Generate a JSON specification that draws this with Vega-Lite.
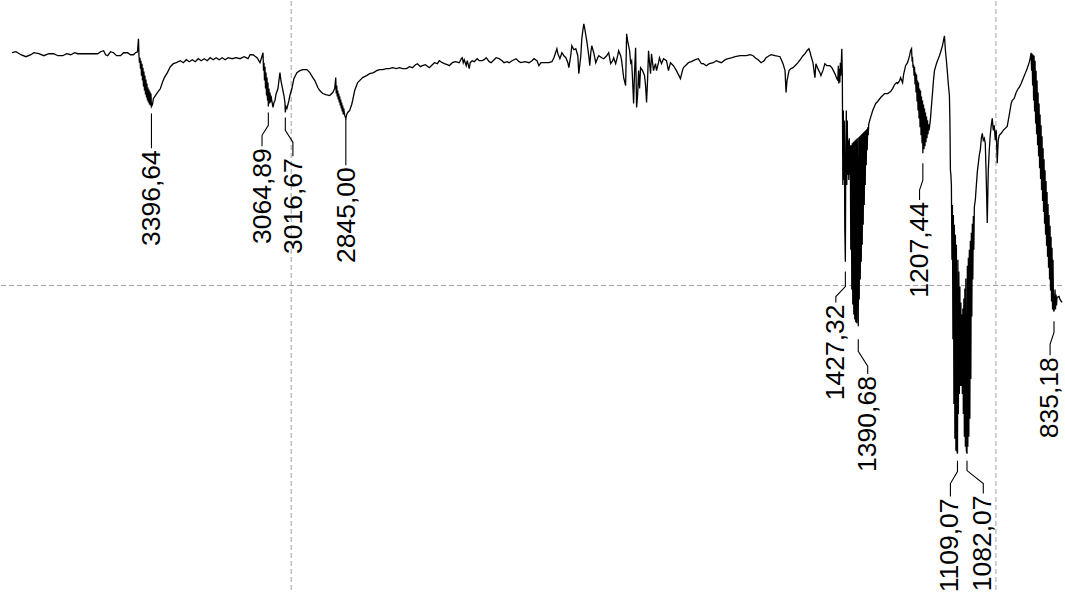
{
  "$schema": "https://vega.github.io/schema/vega-lite/v6.json",
  "width": 1065,
  "height": 592,
  "padding": 0,
  "autosize": {"type": "fit", "contains": "padding"},
  "background": "white",
  "config": {"view": {"stroke": null}},
  "datasets": {
    "spectrum": [
      {"w":3792.5,"t":89.6},{"w":3781.2,"t":89.8},{"w":3767.1,"t":89.2},{"w":3752.9,"t":88.8},{"w":3738.8,"t":89.2},{"w":3730.3,"t":89.6},{"w":3716.2,"t":89.4},{"w":3702.0,"t":89.0},{"w":3687.9,"t":89.4},{"w":3673.8,"t":89.4},{"w":3662.5,"t":89.0},{"w":3648.3,"t":89.0},{"w":3637.0,"t":89.4},{"w":3625.7,"t":89.2},{"w":3614.4,"t":89.6},{"w":3605.9,"t":89.4},{"w":3549.4,"t":89.4},{"w":3540.9,"t":89.8},{"w":3532.4,"t":90.0},{"w":3526.7,"t":89.2},{"w":3521.1,"t":89.0},{"w":3512.6,"t":89.8},{"w":3504.1,"t":89.6},{"w":3495.6,"t":89.0},{"w":3484.3,"t":89.0},{"w":3475.8,"t":89.6},{"w":3464.5,"t":89.6},{"w":3456.1,"t":89.2},{"w":3447.6,"t":89.2},{"w":3441.9,"t":89.6},{"w":3436.3,"t":89.8},{"w":3433.4,"t":92.4},
      {"w":3432.0,"t":89.0},{"w":3430.6,"t":87.6},{"w":3429.2,"t":88.6},{"w":3427.8,"t":86.4},{"w":3426.4,"t":88.0},{"w":3424.95,"t":85.0},{"w":3423.5,"t":87.4},{"w":3422.1,"t":84.0},{"w":3420.7,"t":86.6},{"w":3419.3,"t":82.8},{"w":3417.9,"t":85.8},{"w":3416.5,"t":82.0},{"w":3415.1,"t":85.0},{"w":3413.6,"t":81.2},{"w":3412.2,"t":84.2},{"w":3410.8,"t":80.6},{"w":3409.4,"t":83.4},{"w":3408.0,"t":80.0},{"w":3406.6,"t":82.6},{"w":3405.2,"t":79.6},{"w":3403.8,"t":82.2},{"w":3402.3,"t":79.2},{"w":3400.9,"t":81.8},{"w":3399.5,"t":79.0},{"w":3398.1,"t":81.4},{"w":3396.64,"t":78.8},{"w":3393.8,"t":79.2},{"w":3391.0,"t":80.4},{"w":3385.4,"t":81.0},{"w":3379.7,"t":81.6},{"w":3371.2,"t":82.4},{"w":3365.6,"t":83.6},{"w":3359.9,"t":84.6},{"w":3351.4,"t":85.6},{"w":3343.0,"t":86.8},{"w":3334.5,"t":87.4},{"w":3326.0,"t":87.6},{"w":3314.7,"t":88.0},{"w":3306.2,"t":87.6},{"w":3297.7,"t":88.2},{"w":3289.2,"t":87.8},{"w":3280.8,"t":88.2},{"w":3272.3,"t":87.8},{"w":3263.8,"t":88.4},{"w":3255.3,"t":88.0},{"w":3246.8,"t":88.4},{"w":3238.3,"t":88.0},{"w":3229.9,"t":88.6},{"w":3221.4,"t":88.2},{"w":3212.9,"t":88.6},{"w":3204.4,"t":88.2},{"w":3195.9,"t":88.6},{"w":3187.5,"t":88.2},{"w":3179.0,"t":88.6},{"w":3167.7,"t":88.4},{"w":3156.4,"t":88.6},{"w":3145.0,"t":88.4},{"w":3133.7,"t":88.8},{"w":3122.4,"t":88.4},{"w":3116.8,"t":89.2},{"w":3108.3,"t":89.2},{"w":3097.0,"t":88.6},{"w":3088.5,"t":87.6},
      {"w":3080.0,"t":89.6},{"w":3078.6,"t":86.0},{"w":3077.2,"t":87.6},{"w":3075.8,"t":84.0},{"w":3074.4,"t":86.8},{"w":3072.9,"t":82.4},{"w":3071.5,"t":85.6},{"w":3070.1,"t":81.0},{"w":3068.7,"t":84.6},{"w":3067.3,"t":80.0},{"w":3065.9,"t":83.6},{"w":3064.89,"t":78.8},{"w":3063.1,"t":82.4},{"w":3061.6,"t":79.4},{"w":3060.2,"t":81.6},{"w":3058.8,"t":79.6},{"w":3057.4,"t":81.0},{"w":3054.6,"t":79.8},{"w":3051.7,"t":78.6},{"w":3048.9,"t":79.6},{"w":3046.1,"t":80.0},{"w":3043.3,"t":81.2},{"w":3037.6,"t":82.4},{"w":3032.0,"t":85.6},{"w":3029.1,"t":84.0},{"w":3026.3,"t":83.0},{"w":3023.5,"t":82.0},{"w":3020.6,"t":81.0},{"w":3017.8,"t":79.6},{"w":3016.67,"t":77.6},{"w":3015.0,"t":78.8},{"w":3012.2,"t":78.4},{"w":3009.3,"t":79.2},{"w":3006.5,"t":80.0},{"w":3003.7,"t":81.0},{"w":2998.0,"t":82.4},{"w":2992.4,"t":84.4},{"w":2983.9,"t":85.6},{"w":2975.4,"t":86.0},{"w":2966.9,"t":86.2},{"w":2955.6,"t":86.2},{"w":2947.1,"t":85.6},{"w":2938.7,"t":84.6},{"w":2933.0,"t":84.0},{"w":2924.5,"t":82.6},{"w":2918.9,"t":82.0},{"w":2910.4,"t":81.4},{"w":2901.9,"t":81.2},{"w":2890.6,"t":81.0},{"w":2882.1,"t":81.6},{"w":2876.5,"t":82.4},{"w":2873.6,"t":84.6},{"w":2872.2,"t":81.4},{"w":2870.8,"t":83.0},{"w":2869.4,"t":80.8},{"w":2868.0,"t":82.0},{"w":2866.6,"t":80.2},{"w":2865.1,"t":81.4},{"w":2863.7,"t":79.6},{"w":2862.3,"t":80.8},{"w":2860.9,"t":79.0},{"w":2859.5,"t":80.2},{"w":2858.1,"t":78.4},{"w":2856.7,"t":79.6},{"w":2855.2,"t":77.8},{"w":2853.8,"t":79.0},{"w":2852.4,"t":77.2},{"w":2851.0,"t":78.4},{"w":2848.2,"t":77.0},{"w":2845.0,"t":76.4},{"w":2842.5,"t":77.2},{"w":2839.7,"t":77.6},{"w":2834.0,"t":78.0},{"w":2828.4,"t":79.2},{"w":2825.6,"t":80.0},{"w":2819.9,"t":82.0},{"w":2811.4,"t":83.6},{"w":2805.8,"t":84.0},{"w":2797.3,"t":84.6},{"w":2786.0,"t":85.0},{"w":2777.5,"t":85.4},{"w":2766.2,"t":85.6},{"w":2757.7,"t":86.0},{"w":2749.2,"t":86.2},{"w":2740.7,"t":86.2},{"w":2729.4,"t":86.4},{"w":2721.0,"t":86.4},{"w":2712.5,"t":86.6},{"w":2701.2,"t":86.4},
      {"w":2692.7,"t":86.6},{"w":2684.2,"t":86.4},{"w":2672.9,"t":86.4},{"w":2664.4,"t":86.8},{"w":2655.9,"t":86.6},{"w":2647.4,"t":87.2},{"w":2641.8,"t":87.4},{"w":2633.3,"t":86.8},{"w":2627.7,"t":87.0},{"w":2619.2,"t":87.2},{"w":2607.9,"t":86.6},{"w":2599.4,"t":87.2},{"w":2593.7,"t":87.6},{"w":2585.2,"t":87.4},{"w":2579.6,"t":88.0},{"w":2571.1,"t":87.6},{"w":2565.5,"t":87.4},{"w":2557.0,"t":87.2},{"w":2551.3,"t":87.0},{"w":2542.8,"t":87.6},{"w":2534.4,"t":87.8},{"w":2523.0,"t":87.6},{"w":2517.4,"t":88.4},{"w":2514.6,"t":88.6},{"w":2511.7,"t":87.6},{"w":2508.9,"t":88.2},{"w":2503.3,"t":87.0},{"w":2500.4,"t":88.0},{"w":2494.8,"t":86.4},{"w":2491.9,"t":87.6},{"w":2486.3,"t":88.0},{"w":2480.6,"t":87.8},{"w":2472.2,"t":88.4},{"w":2466.5,"t":88.0},{"w":2458.0,"t":88.0},{"w":2452.4,"t":88.2},{"w":2446.7,"t":88.6},{"w":2438.2,"t":87.8},{"w":2432.6,"t":87.6},{"w":2424.1,"t":88.2},{"w":2418.4,"t":88.6},{"w":2410.0,"t":88.4},{"w":2401.5,"t":88.0},{"w":2395.8,"t":87.6},{"w":2387.3,"t":87.8},{"w":2381.7,"t":87.6},{"w":2373.2,"t":88.0},{"w":2361.9,"t":88.4},{"w":2353.4,"t":87.8},{"w":2347.8,"t":87.6},{"w":2336.4,"t":87.8},{"w":2325.1,"t":87.6},{"w":2316.7,"t":88.0},{"w":2311.0,"t":88.4},{"w":2302.5,"t":88.0},{"w":2296.9,"t":87.0},{"w":2291.2,"t":87.6},{"w":2279.9,"t":87.6},{"w":2268.6,"t":87.6},{"w":2260.1,"t":87.8},{"w":2254.4,"t":88.6},{"w":2251.6,"t":89.2},{"w":2246.0,"t":90.4},{"w":2243.1,"t":89.4},{"w":2237.5,"t":88.4},{"w":2231.8,"t":89.6},{"w":2226.2,"t":89.0},{"w":2220.5,"t":88.6},{"w":2214.9,"t":87.6},{"w":2212.0,"t":86.6},{"w":2206.4,"t":89.2},{"w":2203.6,"t":91.0},{"w":2197.9,"t":90.2},{"w":2192.3,"t":90.4},{"w":2186.6,"t":89.0},{"w":2183.8,"t":85.4},{"w":2178.1,"t":89.0},{"w":2175.3,"t":92.4},{"w":2172.5,"t":94.0},{"w":2169.6,"t":95.4},{"w":2166.8,"t":94.4},{"w":2161.2,"t":92.0},{"w":2155.5,"t":89.0},{"w":2152.7,"t":87.0},{"w":2149.8,"t":89.6},{"w":2147.0,"t":91.0},{"w":2141.4,"t":89.6},{"w":2135.7,"t":87.6},{"w":2130.1,"t":88.6},
      {"w":2127.2,"t":89.0},{"w":2118.7,"t":88.6},{"w":2113.1,"t":88.4},{"w":2104.6,"t":89.0},{"w":2099.0,"t":89.6},{"w":2093.3,"t":87.4},{"w":2087.6,"t":88.0},{"w":2084.8,"t":88.6},{"w":2079.2,"t":87.4},{"w":2073.5,"t":89.0},{"w":2070.7,"t":90.0},{"w":2065.0,"t":89.0},{"w":2062.2,"t":88.0},{"w":2056.5,"t":84.6},{"w":2050.9,"t":83.0},{"w":2048.1,"t":93.4},{"w":2045.2,"t":92.0},{"w":2039.6,"t":90.0},{"w":2036.7,"t":87.6},{"w":2033.9,"t":88.0},{"w":2031.1,"t":84.0},{"w":2028.3,"t":79.4},{"w":2025.4,"t":86.0},{"w":2022.6,"t":90.6},{"w":2019.8,"t":78.6},{"w":2017.0,"t":81.0},{"w":2014.1,"t":86.0},{"w":2011.3,"t":82.4},{"w":2008.5,"t":86.6},{"w":2002.8,"t":86.0},{"w":1997.2,"t":85.0},{"w":1994.3,"t":83.0},{"w":1991.5,"t":79.6},{"w":1988.7,"t":84.0},{"w":1985.9,"t":90.0},{"w":1983.0,"t":87.6},{"w":1980.2,"t":85.4},{"w":1977.4,"t":89.4},{"w":1974.5,"t":87.6},{"w":1971.7,"t":86.0},{"w":1968.9,"t":86.8},{"w":1966.1,"t":87.4},{"w":1963.2,"t":86.0},{"w":1957.6,"t":87.6},{"w":1954.8,"t":88.6},{"w":1951.9,"t":88.0},{"w":1949.1,"t":87.4},{"w":1943.4,"t":88.4},{"w":1935.0,"t":88.0},{"w":1929.3,"t":86.0},{"w":1923.7,"t":87.6},{"w":1915.2,"t":87.0},{"w":1906.7,"t":86.0},{"w":1901.0,"t":85.2},{"w":1895.4,"t":84.4},{"w":1889.7,"t":86.0},{"w":1886.9,"t":86.6},{"w":1878.4,"t":87.2},{"w":1872.8,"t":87.6},{"w":1864.3,"t":87.8},{"w":1853.0,"t":88.2},{"w":1844.5,"t":88.4},{"w":1836.0,"t":87.4},{"w":1830.4,"t":87.4},{"w":1821.9,"t":87.0},{"w":1813.4,"t":87.4},{"w":1802.1,"t":87.6},{"w":1793.6,"t":88.0},{"w":1787.9,"t":87.8},{"w":1779.5,"t":87.6},{"w":1768.1,"t":88.2},{"w":1759.7,"t":88.4},{"w":1748.4,"t":88.6},{"w":1739.9,"t":88.8},{"w":1725.7,"t":89.0},{"w":1708.8,"t":89.0},{"w":1697.5,"t":89.2},{"w":1689.0,"t":89.0},{"w":1683.3,"t":88.6},{"w":1674.9,"t":88.2},{"w":1666.4,"t":87.6},{"w":1657.9,"t":88.0},{"w":1652.2,"t":88.6},{"w":1643.8,"t":89.0},{"w":1638.1,"t":89.2},{"w":1626.8,"t":89.0},{"w":1612.7,"t":88.8},{"w":1604.2,"t":87.4},{"w":1598.5,"t":86.0},{"w":1595.7,"t":81.6},{"w":1592.9,"t":84.0},{"w":1587.2,"t":86.0},{"w":1581.6,"t":86.4},{"w":1575.9,"t":86.6},{"w":1567.4,"t":87.2},{"w":1561.8,"t":87.6},{"w":1553.3,"t":88.4},{"w":1547.6,"t":89.0},{"w":1542.0,"t":89.4},{"w":1536.3,"t":90.0},{"w":1530.7,"t":90.4},{"w":1527.8,"t":89.8},{"w":1525.0,"t":89.0},{"w":1519.3,"t":87.6},{"w":1513.7,"t":84.6},{"w":1510.9,"t":87.4},{"w":1505.2,"t":86.4},{"w":1499.6,"t":85.6},{"w":1496.7,"t":85.0},{"w":1491.1,"t":86.0},{"w":1485.4,"t":87.4},{"w":1479.8,"t":87.0},{"w":1471.3,"t":87.0},{"w":1465.6,"t":86.6},{"w":1457.1,"t":85.4},{"w":1451.5,"t":84.4},{"w":1448.7,"t":84.0},{"w":1447.3,"t":87.0},{"w":1445.8,"t":83.4},{"w":1444.4,"t":86.4},{"w":1443.0,"t":83.6},{"w":1441.6,"t":87.6},{"w":1440.2,"t":85.0},
      {"w":1437.4,"t":90.4},{"w":1435.9,"t":85.0},{"w":1434.5,"t":63.0},{"w":1433.1,"t":78.0},{"w":1431.7,"t":64.0},{"w":1430.3,"t":76.0},{"w":1428.9,"t":54.0},{"w":1427.32,"t":47.6},{"w":1426.1,"t":70.0},{"w":1424.6,"t":78.0},{"w":1423.2,"t":63.0},{"w":1421.8,"t":76.0},{"w":1420.4,"t":65.0},{"w":1419.0,"t":72.0},{"w":1417.6,"t":64.0},{"w":1416.2,"t":72.4},{"w":1414.7,"t":65.0},{"w":1413.3,"t":71.0},{"w":1411.9,"t":50.0},{"w":1410.5,"t":71.0},{"w":1409.1,"t":42.0},{"w":1407.7,"t":71.4},{"w":1406.3,"t":39.0},{"w":1404.8,"t":71.6},{"w":1403.4,"t":37.0},{"w":1402.0,"t":71.8},{"w":1400.6,"t":36.0},{"w":1399.2,"t":72.0},{"w":1397.8,"t":35.4},{"w":1396.4,"t":72.2},{"w":1394.9,"t":35.2},{"w":1393.5,"t":72.4},{"w":1390.68,"t":34.6},{"w":1389.3,"t":72.6},{"w":1387.9,"t":40.0},{"w":1386.5,"t":72.8},{"w":1385.0,"t":44.0},{"w":1383.6,"t":73.0},{"w":1382.2,"t":47.6},{"w":1380.8,"t":73.2},{"w":1379.4,"t":51.0},{"w":1378.0,"t":73.4},{"w":1376.6,"t":55.0},{"w":1375.2,"t":73.6},{"w":1373.7,"t":59.0},{"w":1372.3,"t":73.8},{"w":1370.9,"t":63.0},{"w":1369.5,"t":74.0},{"w":1368.1,"t":67.0},{"w":1366.7,"t":74.2},{"w":1365.3,"t":70.0},{"w":1363.9,"t":74.6},{"w":1362.4,"t":73.0},{"w":1361.0,"t":75.2},{"w":1358.2,"t":76.0},{"w":1349.7,"t":78.0},{"w":1341.2,"t":79.4},{"w":1335.6,"t":79.8},{"w":1327.1,"t":80.6},{"w":1321.4,"t":81.0},{"w":1315.8,"t":81.4},{"w":1307.3,"t":81.4},{"w":1298.8,"t":81.8},{"w":1293.2,"t":82.4},{"w":1287.5,"t":83.2},{"w":1281.9,"t":83.6},{"w":1279.0,"t":83.4},{"w":1273.4,"t":84.0},{"w":1270.6,"t":84.6},{"w":1264.9,"t":83.6},{"w":1262.1,"t":85.2},{"w":1256.4,"t":87.0},{"w":1250.8,"t":87.6},{"w":1245.1,"t":89.0},{"w":1242.3,"t":90.0},
      {"w":1239.5,"t":90.4},{"w":1238.1,"t":88.2},{"w":1236.6,"t":88.4},{"w":1235.2,"t":86.6},{"w":1233.8,"t":87.2},{"w":1232.4,"t":85.0},{"w":1231.0,"t":86.8},{"w":1229.6,"t":83.2},{"w":1228.2,"t":85.6},{"w":1226.7,"t":81.6},{"w":1225.3,"t":85.2},{"w":1223.9,"t":79.8},{"w":1222.5,"t":84.0},{"w":1221.1,"t":78.0},{"w":1219.7,"t":83.6},{"w":1218.3,"t":76.4},{"w":1216.8,"t":82.4},{"w":1215.4,"t":74.6},{"w":1214.0,"t":82.0},{"w":1212.6,"t":73.0},{"w":1211.2,"t":80.8},{"w":1209.8,"t":71.4},{"w":1208.3,"t":80.0},{"w":1207.44,"t":69.4},{"w":1205.5,"t":79.2},{"w":1204.1,"t":70.2},{"w":1202.7,"t":78.4},{"w":1201.3,"t":70.8},{"w":1199.9,"t":77.6},{"w":1198.5,"t":71.6},{"w":1197.0,"t":76.8},{"w":1195.6,"t":72.4},{"w":1194.2,"t":76.0},{"w":1192.8,"t":73.2},{"w":1191.4,"t":75.2},{"w":1190.0,"t":74.0},{"w":1188.6,"t":74.6},{"w":1185.7,"t":76.4},{"w":1182.9,"t":79.0},{"w":1180.1,"t":81.4},{"w":1177.3,"t":84.0},{"w":1174.4,"t":86.0},{"w":1168.8,"t":87.4},{"w":1165.9,"t":88.0},{"w":1160.3,"t":89.0},{"w":1157.5,"t":89.6},{"w":1151.8,"t":91.0},{"w":1149.0,"t":92.0},{"w":1146.1,"t":93.0},{"w":1143.3,"t":90.0},{"w":1140.5,"t":88.0},{"w":1137.7,"t":85.6},{"w":1134.8,"t":83.0},{"w":1132.0,"t":81.0},{"w":1130.6,"t":76.0},
      {"w":1129.2,"t":66.0},{"w":1127.8,"t":65.0},{"w":1126.4,"t":63.0},{"w":1124.9,"t":48.0},{"w":1123.5,"t":59.0},{"w":1122.1,"t":32.0},{"w":1120.7,"t":57.0},{"w":1119.3,"t":19.0},{"w":1117.9,"t":55.0},{"w":1116.5,"t":12.0},{"w":1115.0,"t":53.0},{"w":1113.6,"t":9.6},{"w":1112.2,"t":51.0},{"w":1110.8,"t":9.6},{"w":1109.07,"t":9.0},{"w":1108.0,"t":48.0},{"w":1106.6,"t":17.0},{"w":1105.2,"t":45.6},{"w":1103.8,"t":21.0},{"w":1102.3,"t":42.6},{"w":1100.9,"t":22.6},{"w":1099.5,"t":39.4},{"w":1098.1,"t":22.6},{"w":1096.7,"t":37.0},{"w":1095.3,"t":21.0},{"w":1093.9,"t":38.2},{"w":1092.5,"t":17.0},{"w":1091.0,"t":40.2},{"w":1089.6,"t":12.4},{"w":1088.2,"t":42.2},{"w":1086.8,"t":10.4},{"w":1085.4,"t":44.2},{"w":1084.0,"t":9.6},{"w":1082.07,"t":9.0},{"w":1081.1,"t":46.8},{"w":1079.7,"t":10.4},{"w":1078.3,"t":48.4},{"w":1076.9,"t":12.4},{"w":1075.5,"t":50.0},{"w":1074.0,"t":16.0},{"w":1072.6,"t":51.8},{"w":1071.2,"t":24.0},{"w":1069.8,"t":53.4},{"w":1068.4,"t":36.6},{"w":1067.0,"t":55.2},{"w":1065.6,"t":44.0},{"w":1064.1,"t":56.8},{"w":1062.7,"t":50.0},{"w":1061.3,"t":58.6},{"w":1058.5,"t":60.0},{"w":1052.9,"t":65.6},{"w":1047.2,"t":69.0},{"w":1044.4,"t":70.0},{"w":1041.5,"t":72.4},{"w":1038.7,"t":73.4},{"w":1035.9,"t":72.0},{"w":1033.0,"t":72.4},{"w":1030.2,"t":71.4},{"w":1027.4,"t":64.0},{"w":1024.6,"t":55.4},{"w":1021.7,"t":66.0},{"w":1018.9,"t":70.0},{"w":1016.1,"t":73.0},{"w":1013.3,"t":75.0},{"w":1010.4,"t":76.4},{"w":1007.6,"t":74.0},{"w":1004.8,"t":75.0},{"w":1001.9,"t":72.0},{"w":999.1,"t":74.0},{"w":996.3,"t":67.4},{"w":993.5,"t":72.0},{"w":990.6,"t":73.0},{"w":985.0,"t":73.4},{"w":979.3,"t":74.0},{"w":973.7,"t":74.4},{"w":968.0,"t":74.8},{"w":962.4,"t":77.0},{"w":956.7,"t":79.4},{"w":953.9,"t":80.0},{"w":948.2,"t":80.4},{"w":942.6,"t":81.6},{"w":936.9,"t":82.4},{"w":934.1,"t":82.6},{"w":928.4,"t":83.4},{"w":922.8,"t":84.4},{"w":917.1,"t":85.4},{"w":911.5,"t":86.4},{"w":905.8,"t":87.6},{"w":903.0,"t":88.4},
      {"w":900.2,"t":89.6},{"w":898.8,"t":86.0},{"w":897.3,"t":89.4},{"w":895.9,"t":83.0},{"w":894.5,"t":89.2},{"w":893.1,"t":80.0},{"w":891.7,"t":89.0},{"w":890.3,"t":77.8},{"w":888.9,"t":88.0},{"w":887.4,"t":75.4},{"w":886.0,"t":86.0},{"w":884.6,"t":73.2},{"w":883.2,"t":84.0},{"w":881.8,"t":71.0},{"w":880.4,"t":81.6},{"w":879.0,"t":68.8},{"w":877.5,"t":79.4},{"w":876.1,"t":66.4},{"w":874.7,"t":77.2},{"w":873.3,"t":64.2},{"w":871.9,"t":75.0},{"w":870.5,"t":62.0},{"w":869.1,"t":72.8},{"w":867.6,"t":59.8},{"w":866.2,"t":70.4},{"w":864.8,"t":57.6},{"w":863.4,"t":68.2},{"w":862.0,"t":55.2},{"w":860.6,"t":66.0},{"w":859.2,"t":53.0},{"w":857.7,"t":63.8},{"w":856.3,"t":50.8},{"w":854.9,"t":61.6},{"w":853.5,"t":48.6},{"w":852.1,"t":59.2},{"w":850.7,"t":46.4},{"w":849.3,"t":57.0},{"w":847.8,"t":44.0},{"w":846.4,"t":54.8},{"w":845.0,"t":41.8},{"w":843.6,"t":52.6},{"w":842.2,"t":39.6},{"w":840.8,"t":50.4},{"w":839.4,"t":38.0},{"w":838.0,"t":48.0},{"w":836.5,"t":37.8},{"w":835.18,"t":37.6},{"w":832.3,"t":42.0},{"w":830.9,"t":38.0},{"w":829.5,"t":41.0},{"w":828.1,"t":38.8},{"w":826.7,"t":40.4},{"w":821.0,"t":40.6},{"w":818.2,"t":40.0},{"w":812.5,"t":39.4}
    ],
    "leaders": [
      {"lbl":"3396,64","seq":0,"w":3396.6,"t":77.4},{"lbl":"3396,64","seq":1,"w":3396.6,"t":70.4},
      {"lbl":"3064,89","seq":0,"w":3064.9,"t":77.6},{"lbl":"3064,89","seq":1,"w":3064.9,"t":75.0},{"lbl":"3064,89","seq":2,"w":3082.8,"t":73.0},{"lbl":"3064,89","seq":3,"w":3082.8,"t":70.8},
      {"lbl":"3016,67","seq":0,"w":3016.7,"t":76.6},{"lbl":"3016,67","seq":1,"w":3016.7,"t":74.0},{"lbl":"3016,67","seq":2,"w":2995.2,"t":71.6},{"lbl":"3016,67","seq":3,"w":2995.2,"t":68.8},
      {"lbl":"2845,00","seq":0,"w":2845.0,"t":76.4},{"lbl":"2845,00","seq":1,"w":2845.0,"t":67.0},
      {"lbl":"1427,32","seq":0,"w":1427.3,"t":45.6},{"lbl":"1427,32","seq":1,"w":1427.3,"t":42.6},{"lbl":"1427,32","seq":2,"w":1454.3,"t":40.6},{"lbl":"1427,32","seq":3,"w":1454.3,"t":39.4},
      {"lbl":"1390,68","seq":0,"w":1390.7,"t":32.0},{"lbl":"1390,68","seq":1,"w":1390.7,"t":29.6},{"lbl":"1390,68","seq":2,"w":1363.9,"t":26.6},{"lbl":"1390,68","seq":3,"w":1363.9,"t":25.0},
      {"lbl":"1207,44","seq":0,"w":1207.4,"t":67.4},{"lbl":"1207,44","seq":1,"w":1207.4,"t":64.0},{"lbl":"1207,44","seq":2,"w":1216.8,"t":62.0},{"lbl":"1207,44","seq":3,"w":1216.8,"t":60.0},
      {"lbl":"1109,07","seq":0,"w":1109.1,"t":7.6},{"lbl":"1109,07","seq":1,"w":1109.1,"t":5.4},{"lbl":"1109,07","seq":2,"w":1129.2,"t":3.0},{"lbl":"1109,07","seq":3,"w":1129.2,"t":0.4},
      {"lbl":"1082,07","seq":0,"w":1082.1,"t":7.6},{"lbl":"1082,07","seq":1,"w":1082.1,"t":5.6},{"lbl":"1082,07","seq":2,"w":1035.9,"t":3.0},{"lbl":"1082,07","seq":3,"w":1035.9,"t":1.0},
      {"lbl":"835,18","seq":0,"w":835.2,"t":35.6},{"lbl":"835,18","seq":1,"w":835.2,"t":33.4},{"lbl":"835,18","seq":2,"w":846.4,"t":31.0},{"lbl":"835,18","seq":3,"w":846.4,"t":28.8}
    ],
    "labels": [
      {"lbl":"3396,64","w":3394.5,"t":70.0},
      {"lbl":"3064,89","w":3080.0,"t":70.4},
      {"lbl":"3016,67","w":2992.4,"t":68.4},
      {"lbl":"2845,00","w":2842.5,"t":66.6},
      {"lbl":"1427,32","w":1454.3,"t":39.0},
      {"lbl":"1390,68","w":1363.9,"t":24.6},
      {"lbl":"1207,44","w":1216.8,"t":59.6},
      {"lbl":"1109,07","w":1129.2,"t":0.0},
      {"lbl":"1082,07","w":1035.9,"t":0.6},
      {"lbl":"835,18","w":846.4,"t":28.4}
    ]
  },
  "layer": [
    {
      "data": {"values": [{"gw": 3000}, {"gw": 1000}]},
      "mark": {"type": "rule", "color": "#a0a0a0", "strokeDash": [5, 3], "strokeWidth": 1},
      "encoding": {
        "x": {"field": "gw", "type": "quantitative", "scale": {"domain": [812.5, 3823.6], "reverse": true, "nice": false, "zero": false}, "axis": null}
      }
    },
    {
      "data": {"values": [{"gt": 42.8}]},
      "mark": {"type": "rule", "color": "#a0a0a0", "strokeDash": [5, 3], "strokeWidth": 1},
      "encoding": {
        "y": {"field": "gt", "type": "quantitative", "scale": {"domain": [-18.4, 100], "nice": false, "zero": false}, "axis": null}
      }
    },
    {
      "data": {"name": "spectrum"},
      "mark": {"type": "line", "color": "black", "strokeWidth": 1.3, "interpolate": "linear"},
      "encoding": {
        "x": {"field": "w", "type": "quantitative", "scale": {"domain": [812.5, 3823.6], "reverse": true, "nice": false, "zero": false}, "axis": null},
        "y": {"field": "t", "type": "quantitative", "scale": {"domain": [-18.4, 100], "nice": false, "zero": false}, "axis": null},
        "order": {"value": null}
      }
    },
    {
      "data": {"name": "leaders"},
      "mark": {"type": "line", "color": "black", "strokeWidth": 1.1},
      "encoding": {
        "x": {"field": "w", "type": "quantitative", "axis": null},
        "y": {"field": "t", "type": "quantitative", "axis": null},
        "detail": {"field": "lbl"},
        "order": {"field": "seq", "type": "quantitative"}
      }
    },
    {
      "data": {"name": "labels"},
      "mark": {"type": "text", "angle": 270, "align": "right", "baseline": "middle", "font": "Liberation Sans", "fontSize": 26.5, "color": "black"},
      "encoding": {
        "x": {"field": "w", "type": "quantitative", "axis": null},
        "y": {"field": "t", "type": "quantitative", "axis": null},
        "text": {"field": "lbl"}
      }
    }
  ]
}
